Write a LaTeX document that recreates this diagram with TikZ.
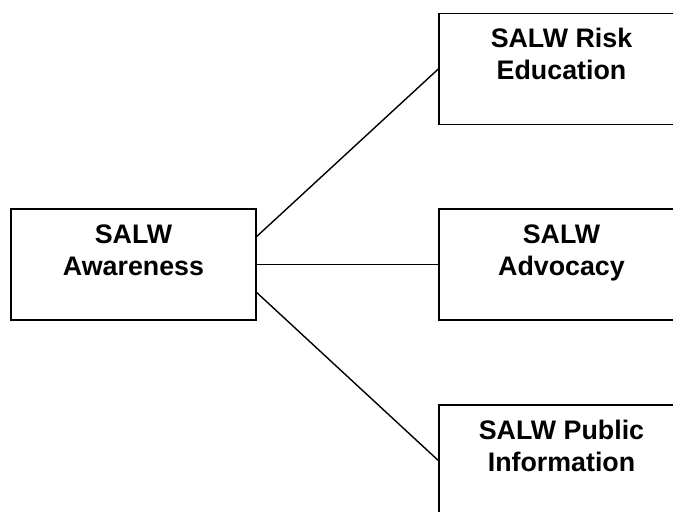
\documentclass[tikz,border=0pt]{standalone}
\usepackage{fontspec}
\setmainfont{Liberation Sans}
\begin{document}
\begin{tikzpicture}[x=1pt,y=-1pt,
        box/.style={draw,line width=1.4pt,minimum width=245pt,minimum height=111pt,
            align=center,inner sep=0pt,font=\fontsize{26.8}{32}\selectfont\bfseries}]
            \clip (0,0) rectangle (673,512);
            \node[box] (aware) at (133.5,264.5) {SALW\\Awareness\\[-12pt]\strut};
            \node[box] (risk) at (561.5,69) {SALW Risk\\Education\\[-12pt]\strut};
            \node[box] (advo) at (561.5,264.5) {SALW\\Advocacy\\[-12pt]\strut};
            \node[box] (info) at (561.5,460.5) {SALW Public\\Information\\[-12pt]\strut};
            \draw[line width=1.4pt] ([yshift=28pt]aware.east) -- (risk.west);
            \draw[line width=1.4pt] (aware.east) -- (advo.west);
            \draw[line width=1.4pt] ([yshift=-28pt]aware.east) -- (info.west);
        \end{tikzpicture}
\end{document}
